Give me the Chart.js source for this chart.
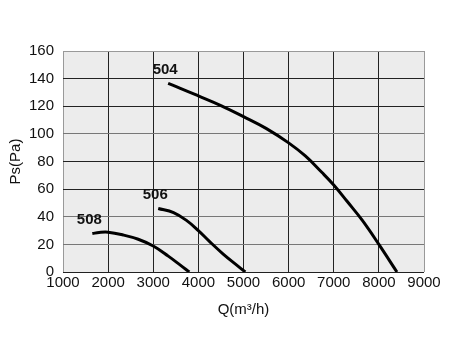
<!DOCTYPE html>
<html>
<head>
<meta charset="utf-8">
<script src="https://cdn.jsdelivr.net/npm/chart.js@4.4.0/dist/chart.umd.min.js"></script>
<style>
  html, body { margin: 0; padding: 0; background: #fff; }
  #wrap { width: 450px; height: 350px; }
</style>
</head>
<body>
<div id="wrap"><canvas id="fanChart" width="450" height="350"></canvas></div>
<script>
// curve names
const models = ['504', '506', '508'];

// Q (m3/h) and Ps (Pa)
const q504 = [3330, 3600, 4000, 4500, 5000, 5500, 6000, 6370, 6740, 7000, 7300, 7630, 8000, 8400];
const ps504 = [136.5, 133, 127.5, 120.5, 112.5, 104, 93.5, 84, 72, 63, 51, 37.5, 20, 0];

const q506 = [3110, 3450, 3750, 4000, 4250, 4550, 4850, 5040];
const ps506 = [46, 43, 37, 30, 22, 13, 5, 0];

const q508 = [1650, 1800, 2000, 2333, 2667, 3000, 3333, 3600, 3800];
const ps508 = [27.8, 28.6, 28.8, 26.8, 23.7, 18.8, 11.5, 5, 0];

// axis ticks
const xTicks = [1000, 2000, 3000, 4000, 5000, 6000, 7000, 8000, 9000];
const yTicks = [0, 20, 40, 60, 80, 100, 120, 140, 160];

const toPoints = (xs, ys) => xs.map((x, i) => ({ x: x, y: ys[i] }));

const FONT = '"Liberation Sans", Arial, Helvetica, sans-serif';

// grey plot background
const plotBg = {
    id: 'plotBg',
    beforeDraw(chart) {
        const { ctx, chartArea: a } = chart;
        ctx.save();
        ctx.fillStyle = '#ececec';
        ctx.fillRect(a.left, a.top, a.right - a.left, a.bottom - a.top);
        ctx.restore();
    }
};

// model number above the start of each curve
const curveLabels = {
    id: 'curveLabels',
    afterDatasetsDraw(chart) {
        const ctx = chart.ctx;
        ctx.save();
        ctx.font = 'bold 15px ' + FONT;
        ctx.fillStyle = '#111';
        ctx.textAlign = 'center';
        ctx.textBaseline = 'bottom';
        chart.data.datasets.forEach((ds, i) => {
            const p = chart.getDatasetMeta(i).data[0];
            ctx.fillText(ds.label, p.x - 3, p.y - 6);
        });
        ctx.restore();
    }
};

const mkSet = (label, xs, ys) => ({
    label: label,
    data: toPoints(xs, ys),
    borderColor: '#000',
    borderWidth: 3,
    pointRadius: 0,
    fill: false,
    tension: 0.4
});

new Chart(document.getElementById('fanChart'), {
    type: 'line',
    data: {
        datasets: [
            mkSet(models[0], q504, ps504),
            mkSet(models[1], q506, ps506),
            mkSet(models[2], q508, ps508)
        ]
    },
    options: {
        responsive: false,
        animation: false,
        layout: { padding: { top: 51, right: 26, bottom: 31, left: 7 } },
        plugins: { legend: { display: false }, tooltip: { enabled: false } },
        scales: {
            x: {
                type: 'linear',
                min: 1000,
                max: 9000,
                afterBuildTicks: (s) => { s.ticks = xTicks.map(v => ({ value: v })); },
                afterFit: (s) => { s.height = 47; },
                ticks: { color: '#111', font: { family: FONT, size: 15 }, padding: 2, maxRotation: 0, callback: (v) => String(v) },
                grid: {
                    drawTicks: false,
                    lineWidth: 1,
                    color: (c) => (c.index === 0 || c.index === xTicks.length - 1) ? '#999' : '#222'
                },
                border: { display: false },
                title: { display: true, text: 'Q(m³/h)', color: '#111', font: { family: FONT, size: 15 }, padding: 0 }
            },
            y: {
                min: 0,
                max: 160,
                afterBuildTicks: (s) => { s.ticks = yTicks.map(v => ({ value: v })); },
                afterFit: (s) => { s.width = 56; },
                ticks: { color: '#111', font: { family: FONT, size: 15 }, padding: 9, callback: (v) => String(v) },
                grid: {
                    drawTicks: false,
                    lineWidth: 1,
                    color: (c) => {
                        const v = c.tick ? c.tick.value : 0;
                        if (v === 160) return '#999';
                        if (v === 100 || v === 40 || v === 20) return '#777';
                        return '#222';
                    }
                },
                border: { display: false },
                title: { display: true, text: 'Ps(Pa)', color: '#111', font: { family: FONT, size: 15 }, padding: 0 }
            }
        }
    },
    plugins: [plotBg, curveLabels]
});
</script>
</body>
</html>
